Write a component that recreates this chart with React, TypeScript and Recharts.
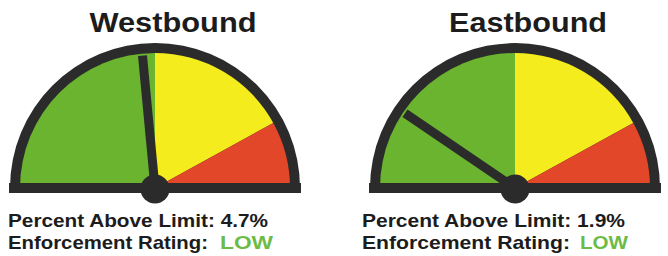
import { PieChart, Pie, Cell } from "recharts";

// speed compliance gauges, 0-10% above limit
const DIRECTIONS = ["Westbound", "Eastbound"];
const PERCENT_ABOVE = [4.7, 1.9];
const RATINGS = ["LOW", "LOW"];
const ZONE_NAMES = ["Low", "Medium", "High"];
const ZONE_VALUES = [5, 3.4, 1.6];
const SCALE_MAX = 10;

const ZONE_COLORS = ["#6ab42f", "#f4ec1c", "#e2472a"];
const DARK = "#2b2b2b";
const TEXT = "#1c1c1c";
const LOW_GREEN = "#6cbb45";
const FONT = "'Liberation Sans', Arial, sans-serif";

const CY = 188;
const OUTER_R = 145;
const INNER_R = 135;
const NEEDLE_LEN = 133;
const RAD = Math.PI / 180;

const LAYOUT = [
  { cx: 155, titleX: 173, titleW: 167, textX: 8, line1W: 260, line2W: 200, lowX: 220, lowW: 53 },
  { cx: 515, titleX: 528, titleW: 158, textX: 362, line1W: 263, line2W: 208, lowX: 580, lowW: 48 },
];

const zoneData = ZONE_NAMES.map((name, i) => ({ name, value: ZONE_VALUES[i] }));

const renderNeedle = (props: any) => {
  if (props.index !== 0) return null;
  const { cx, cy, endAngle } = props;
  const x = cx + NEEDLE_LEN * Math.cos(-endAngle * RAD);
  const y = cy + NEEDLE_LEN * Math.sin(-endAngle * RAD);
  return (
    <g>
      <rect x={cx - 146} y={cy - 5} width={292} height={10} fill={DARK} />
      <line x1={cx} y1={cy} x2={x} y2={y} stroke={DARK} strokeWidth={9} />
      <circle cx={cx} cy={cy + 1} r={14.5} fill={DARK} />
    </g>
  );
};

export default function App() {
  return (
    <div style={{ position: "absolute", left: 0, top: 0, background: "#fff" }}>
      <PieChart width={668} height={256} margin={{ top: 0, right: 0, bottom: 0, left: 0 }}>
        {DIRECTIONS.map((dir, g) => {
          const L = LAYOUT[g];
          const needleData = [
            { name: "value", value: PERCENT_ABOVE[g] },
            { name: "rest", value: SCALE_MAX - PERCENT_ABOVE[g] },
          ];
          return [
            <Pie
              key={`frame-${g}`}
              data={[{ name: "frame", value: 1 }]}
              dataKey="value"
              cx={L.cx}
              cy={CY}
              startAngle={180}
              endAngle={0}
              innerRadius={0}
              outerRadius={OUTER_R}
              fill={DARK}
              stroke="none"
              isAnimationActive={false}
            />,
            <Pie
              key={`zones-${g}`}
              data={zoneData}
              dataKey="value"
              cx={L.cx}
              cy={CY}
              startAngle={180}
              endAngle={0}
              innerRadius={0}
              outerRadius={INNER_R}
              stroke="none"
              isAnimationActive={false}
            >
              {zoneData.map((z, i) => (
                <Cell key={z.name} fill={ZONE_COLORS[i]} />
              ))}
            </Pie>,
            <Pie
              key={`needle-${g}`}
              data={needleData}
              dataKey="value"
              cx={L.cx}
              cy={CY}
              startAngle={180}
              endAngle={0}
              innerRadius={0}
              outerRadius={NEEDLE_LEN}
              fill="none"
              stroke="none"
              label={renderNeedle}
              labelLine={false}
              isAnimationActive={false}
            />,
            <text
              key={`title-${g}`}
              x={L.titleX}
              y={32}
              textAnchor="middle"
              fontFamily={FONT}
              fontWeight="bold"
              fontSize={28}
              fill={TEXT}
              textLength={L.titleW}
              lengthAdjust="spacingAndGlyphs"
            >
              {dir}
            </text>,
            <text
              key={`pct-${g}`}
              x={L.textX}
              y={227}
              fontFamily={FONT}
              fontWeight="bold"
              fontSize={19}
              fill={TEXT}
              textLength={L.line1W}
              lengthAdjust="spacingAndGlyphs"
            >
              {`Percent Above Limit: ${PERCENT_ABOVE[g]}%`}
            </text>,
            <text
              key={`rating-${g}`}
              x={L.textX}
              y={249}
              fontFamily={FONT}
              fontWeight="bold"
              fontSize={19}
              fill={TEXT}
              textLength={L.line2W}
              lengthAdjust="spacingAndGlyphs"
            >
              Enforcement Rating:
            </text>,
            <text
              key={`low-${g}`}
              x={L.lowX}
              y={249}
              fontFamily={FONT}
              fontWeight="bold"
              fontSize={19}
              fill={LOW_GREEN}
              textLength={L.lowW}
              lengthAdjust="spacingAndGlyphs"
            >
              {RATINGS[g]}
            </text>,
          ];
        })}
      </PieChart>
    </div>
  );
}
